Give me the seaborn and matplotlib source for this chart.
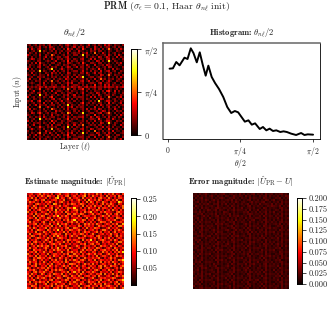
import matplotlib
matplotlib.use("Agg")
import matplotlib.pyplot as plt
import numpy as np
import seaborn as sns

hist_theta = [.021, .057, .093, .129, .182, .215, .250, .279, .315, .347, .379, .411, .440, .476,
              .512, .555, .601, .644, .687, .726, .762, .798, .834, .873, .909, .945, .995, 1.030,
              1.066, 1.102, 1.138, 1.174, 1.217, 1.252, 1.288, 1.335, 1.388, 1.442, 1.478, 1.514, 1.571]
hist_density = [2.11, 2.12, 2.31, 2.21, 2.44, 2.40, 2.72, 2.58, 2.30, 2.60, 2.23, 1.90, 2.20, 1.86,
                1.68, 1.50, 1.26, .96, .78, .84, .80, .66, .52, .56, .43, .47, .30, .36,
                .26, .31, .24, .26, .21, .23, .21, .16, .12, .18, .12, .14, .13]

# levels 0-9 estimated by eye, one string per row
theta_rows = [
    "12012021 20130110 21023102 10210130 12021031 31021102",
    "01201130 12032101 02012013 02130210 03102012 20120210",
    "20310230 01021301 10204120 21041002 03120201 51012031",
    "10120170 21012020 12012201 03110102 12022010 21002110",
    "02102020 10210120 20103012 12021301 05010310 20120102",
    "31011030 02105201 01202102 20170210 10201120 31020310",
    "10201020 13012012 20123010 01120201 21032013 20103021",
    "01320120 20103102 12013102 10230013 03012102 30210102",
    "21010220 01210130 01204021 20120120 10320201 71021001",
    "10203041 10102201 20103210 12041002 21022010 20102130",
    "02110130 21020012 10212012 01120310 03011203 21010210",
    "12010230 01202120 02013201 30220120 10210120 32011002",
    "30201020 10127010 13102120 01120201 21041020 10302101",
    "01120170 21010302 01202012 20130102 02103012 30120021",
    "10301020 02103120 20103201 10220310 13022010 22010210",
    "21021021 10302011 02012102 02110120 01103201 51021102",
    "01200221 20102120 10213020 31270012 20122010 20102031",
    "13011030 01210201 21032102 01120201 03015120 21201210",
    "20102120 12015012 01202021 10230130 10210201 31002102",
    "01210020 30102101 20113130 02120012 21023012 20120021",
    "10101220 21002120 02103012 21020201 04012031 30211102",
    "21212132 13122321 12312132 13212312 23122132 32213123",
    "02101140 01210201 10205102 02240120 12022010 21012010",
    "20130020 20103012 21012021 10120201 02110203 41030201",
    "01210230 12010130 02102210 20130012 10320120 20120102",
    "12001071 02102102 10213013 01020210 21031012 20210021",
    "30120120 21024010 01202102 12220103 03012010 51002130",
    "01021020 10102301 20114020 20120210 10203201 20120102",
    "21300240 02120120 13012102 01020012 02071013 31021021",
    "10120120 30103012 01202210 10240120 21022010 40210130",
    "02013031 12012201 20117021 02120201 10203102 21002012",
    "20100150 01310102 02103130 21220010 03010201 30120201",
    "13021020 20105210 10203012 10120302 12032010 21031002",
    "01200120 12010031 21012102 02020120 01201320 20102120",
    "10320241 01202120 02106301 20170012 20123012 51020102",
    "21010020 20103012 10212020 01120210 04010201 21002031",
    "02102130 31012201 01203102 12230103 10320120 30120210",
    "10120071 02120102 20114021 20020012 21041002 20310102",
    "30201020 10104120 02102210 01120201 03012013 31002120",
    "01021220 21020301 12012012 10210120 20103201 71021002",
    "20130020 01203012 20103103 02150012 12022010 20120031",
    "12001141 10212120 01207020 21020210 01201302 20201102",
    "01310120 20106012 10202102 10230103 20122010 41012010",
    "20101020 03110201 21012021 02020120 05010201 20301102",
    "10210250 12031020 02103130 20170201 10320120 31020012",
    "02013020 20102103 10214012 01120012 21031013 20102201",
    "21020121 01210120 20103201 12220120 03010201 51021002",
    "10102030 12010201 01202012 20120201 10202102 20120130",
]

estimate_rows = [
    "34523462 53425134 62345243 51436253 42635142 53624315",
    "25341536 42653417 34256135 24357142 63425316 24351642",
    "43625143 35142368 25413624 53162435 24156342 63142553",
    "52136425 61324552 43612352 46325174 35264135 42536214",
    "36452314 25463142 56324143 35142626 41532643 15342863",
    "24315643 42531762 31425365 24653143 52413625 36421542",
    "53264132 36145243 62453124 43261535 26345142 63524136",
    "41536254 52346135 24136548 32514264 34162554 24153426",
    "35142463 24635172 53426135 62345142 53642413 52634152",
    "62435125 43152364 35164243 51426357 24315364 43215643",
    "24516342 36524153 42316526 43652134 62453126 35146252",
    "43261536 51243648 25364153 26135442 35124643 62435314",
    "35426153 42651324 63245134 53412624 46253135 24316542",
    "52134642 35426153 41536258 24365143 51364224 53462135",
    "46253314 62143525 34125463 62451325 24136552 36124453",
    "24356142 53261437 25463142 35126463 52643135 42536127",
    "63142535 24536142 61352434 26415353 41263542 35142664",
    "35264143 46152353 34256126 53142624 36541224 62435213",
    "42513654 31642538 25143653 46325134 52413663 24153642",
    "53426132 64253142 43625134 25136452 34625143 51362435",
    "26134563 25314564 52163425 34652413 62134524 36245143",
    "43652142 53142637 34251463 52136345 41563232 45136253",
    "35124653 42635124 65341423 26453124 35264153 62413542",
    "62435213 36415262 24136535 43162548 24135642 35264135",
    "24156342 52364135 43625142 56314253 43621534 52143663",
    "53624135 24135643 62143524 32546135 62451342 43526124",
    "41352646 35624152 35462133 64125342 35126453 26341542",
    "36245132 46315247 24153642 35246153 42653124 53164235",
    "52164453 25143636 53426134 41362545 26314563 42536142",
    "24536143 63254124 36125463 52634132 54132635 24153648",
    "63142524 42613553 42536126 34152464 36245124 63425132",
    "35426153 35142644 25314653 62453142 42613553 25136453",
    "42153664 52463132 64253141 35126343 53462142 46352124",
    "53264135 24315362 43162536 42563154 26135434 35142658",
    "26345142 63142545 35264123 56341224 43526153 52643135",
    "45136253 42536134 52413665 24136352 62413542 43162524",
    "32546124 35164253 24635142 63254135 34156263 26453146",
    "64132535 52634142 43152634 25143462 53246135 42135263",
    "25463143 26415363 65321453 46325124 25631442 63524132",
    "43156254 63245132 24536147 35162453 64215334 25134653",
    "52634126 41352654 36142532 52643135 32546162 43625142",
    "36241543 25463134 42653164 26314552 45163224 52136436",
    "42513635 63142526 53126435 43562134 62135453 34652124",
    "53462142 34256143 24365142 65134253 24536134 62413558",
    "26135364 52613445 63241536 32451264 53162442 35246135",
    "45326132 46135262 34512643 52643135 26345163 42153624",
    "32654143 24536135 46253124 36124562 43516235 64325142",
    "54136252 63421546 25136453 42635143 62134542 35462136",
]

error_rows = [
    "34253463 24352456 32453426 35243562 43526345 24356342",
    "43524352 46325342 54236435 42635243 25346253 43524365",
    "25346243 35243564 23546342 53426354 34265342 35462435",
    "52435364 24635243 45362534 24356243 52436524 62345243",
    "34625342 53426345 34253642 45324635 43562342 43526354",
    "43253546 32546253 62435243 53462534 26345436 25346243",
    "26435243 45326342 35264352 34256243 53423546 54362435",
    "53426354 24356435 43526243 62345352 34265243 43256342",
    "34252436 53462543 25346354 43526243 62435342 35426354",
    "45363524 34253426 54235243 35462435 25346253 62345243",
    "23546243 45362435 34625342 24356534 43526342 43526354",
    "54324635 24356243 42635463 53426243 35264354 25346242",
    "34625342 63245354 35243524 42635435 54326243 43625345",
    "42536243 34526243 46352634 35243562 24356342 52436243",
    "35264354 52436345 23546243 54326342 43526435 34256354",
    "63425243 34265463 54236342 24635243 52346243 45362435",
    "24356435 45326342 35462543 43526354 34265352 23546243",
    "43526243 53426254 42356342 35264243 62435463 54326342",
    "52346354 24635343 56324635 42536342 34526243 34265435",
    "34265243 43526452 24356243 53462635 25346354 62435243",
    "45326342 35264354 43526342 34256243 53426342 43526354",
    "23546435 62435243 35264563 45326342 42635243 25346243",
    "54324263 34526354 52436243 23546354 35462435 43625342",
    "35462342 45362243 34265354 62435243 54236342 34526354",
    "42635243 53426435 25346342 34526463 43526253 52436243",
    "63245354 24356342 46325243 52436342 34265435 24635342",
    "34526243 43625254 53426354 35264243 25346342 43526263",
    "45326435 52346342 24356243 43625354 54326243 35462342",
    "23546342 35264563 43526342 54236243 42635354 62345243",
    "52436243 43526243 35462435 25346342 34526243 43265354",
    "34265354 62345342 42356243 45362534 53426342 24356243",
    "43625243 25346354 53462342 34256243 24635463 53426342",
    "54236342 43526243 24635354 62435342 35264243 42536354",
    "25346243 34265463 52346243 34526354 43526342 35462243",
    "35462354 54326243 43526342 25346243 62345435 24356342",
    "62435243 42635342 35264254 43625463 34256243 53426354",
    "24356342 53462243 46325342 52436243 25346354 43625243",
    "43526463 24356354 34256243 35462342 54236243 34265342",
    "34625243 45326243 52436354 24635243 43526342 62435354",
    "53426342 34526342 23546243 43526535 35264243 25346243",
    "42536254 62345243 45362342 34265243 54326354 43526342",
    "25346342 43625354 34526243 52346342 42635243 35462435",
    "54326243 25346243 62435354 43526243 34256342 53426243",
    "34265354 54236342 35264243 25346435 62345243 43625354",
    "43526243 34625243 42536342 53462354 25346342 24356243",
    "35462342 43526463 54326243 34265342 43625243 52436354",
    "62345243 25346342 34625354 42536243 35264354 34526243",
    "24356354 53426243 43526342 35462243 42536243 45326342",
]

theta_ticks = [0, np.pi / 4, np.pi / 2]
theta_tick_labels = ["$0$", r"$\pi/4$", r"$\pi/2$"]
estimate_ticks = [0.05, 0.10, 0.15, 0.20, 0.25]
error_ticks = [0.000, 0.025, 0.050, 0.075, 0.100, 0.125, 0.150, 0.175, 0.200]


def decode(rows, unit):
    return np.array([[int(c) for c in row.replace(" ", "")] for row in rows]) * unit


def add_px_axes(fig, left, top, right, bottom):
    W, H = 332, 311
    return fig.add_axes([left / W, 1 - bottom / H, (right - left) / W, (bottom - top) / H])


def draw_heat(fig, box, cbar_box, matrix, vmin, vmax, ticks, labels=None):
    ax = add_px_axes(fig, *box)
    cax = add_px_axes(fig, *cbar_box)
    sns.heatmap(matrix, cmap="hot", vmin=vmin, vmax=vmax, ax=ax, cbar_ax=cax,
                xticklabels=False, yticklabels=False, square=False)
    ax.tick_params(length=0)
    cax.set_yticks(ticks)
    if labels is not None:
        cax.set_yticklabels(labels)
    else:
        cax.set_yticklabels([f"{t:.3f}" if vmax < 0.22 else f"{t:.2f}" for t in ticks])
    cax.tick_params(axis="y", length=3.2, width=0.6, pad=1.5, labelsize=6)
    for s in cax.spines.values():
        s.set_visible(True)
        s.set_linewidth(0.6)
        s.set_color("black")
    return ax, cax


sns.set_theme(style="white")
plt.rcParams["font.family"] = ["cmr10", "DejaVu Serif"]
plt.rcParams["mathtext.fontset"] = "cm"
plt.rcParams["axes.formatter.use_mathtext"] = True
plt.rcParams["text.color"] = "#222222"

fig = plt.figure(figsize=(3.32, 3.11), dpi=100)

fig.text(167 / 332, 1 - 7 / 311, r"$\mathbf{PRM}$ ($\sigma_\epsilon=0.1$, Haar $\theta_{n\ell}$ init)",
         ha="center", va="center", fontsize=7)

theta_vals = decode(theta_rows, np.pi / 2 / 10)
ax1, cax1 = draw_heat(fig, (27, 44, 124, 140), (131, 49, 137, 135), theta_vals, 0, np.pi / 2,
                      theta_ticks, theta_tick_labels)
fig.text(75 / 332, 1 - 33 / 311, r"$\theta_{n\ell}/2$", ha="center", va="center", fontsize=7)
fig.text(18 / 332, 1 - 92 / 311, r"Input ($n$)", ha="center", va="center", rotation=90, fontsize=5.5)
fig.text(75 / 332, 1 - 147 / 311, r"Layer ($\ell$)", ha="center", va="center", fontsize=5.5)

ax2 = add_px_axes(fig, 163, 43, 320, 139)
sns.lineplot(x=hist_theta, y=hist_density, color="black", linewidth=1.4, ax=ax2)
ax2.set_xlim(-0.05, 1.646)
ax2.set_ylim(0, 2.88)
ax2.set_yticks([])
ax2.set_xticks(theta_ticks)
ax2.set_xticklabels(theta_tick_labels)
ax2.tick_params(axis="x", length=2.5, width=0.6, pad=1.5, labelsize=5.5, bottom=True)
for name, color, lw in [("left", "#666666", 1.1), ("top", "#666666", 1.1),
                        ("right", "black", 0.6), ("bottom", "black", 0.6)]:
    ax2.spines[name].set_visible(True)
    ax2.spines[name].set_color(color)
    ax2.spines[name].set_linewidth(lw)
fig.text(242 / 332, 1 - 33 / 311, r"Histogram: $\theta_{n\ell}/2$",
         ha="center", va="center", fontsize=6.2, family="cmb10")
fig.text(240 / 332, 1 - 163 / 311, r"$\theta/2$", ha="center", va="center", fontsize=5.5)

estimate_vals = decode(estimate_rows, 0.022)
draw_heat(fig, (27, 193, 124, 289), (131, 198, 136, 285), estimate_vals, 0.001, 0.253, estimate_ticks)
fig.text(75 / 332, 1 - 182 / 311, r"Estimate magnitude: $|\hat{U}_{\mathrm{PR}}|$",
         ha="center", va="center", fontsize=6.2, family="cmb10")

error_vals = decode(error_rows, 0.0045)
draw_heat(fig, (193, 193, 289, 289), (297, 198, 302, 284), error_vals, 0, 0.2, error_ticks)
fig.text(241 / 332, 1 - 182 / 311, r"Error magnitude: $|\hat{U}_{\mathrm{PR}}-U|$",
         ha="center", va="center", fontsize=6.2, family="cmb10")

fig.savefig("out.png", dpi=100)
